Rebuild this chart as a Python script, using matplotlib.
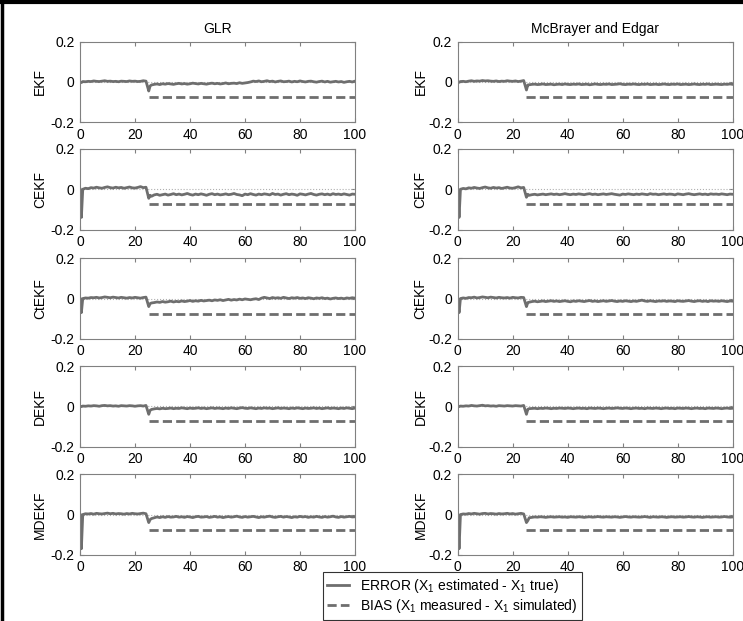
import numpy as np
import matplotlib
matplotlib.use("Agg")
import matplotlib.pyplot as plt
from matplotlib.lines import Line2D

plt.rcParams['font.family'] = ['Liberation Sans', 'DejaVu Sans']
plt.rcParams['mathtext.fontset'] = 'custom'
plt.rcParams['mathtext.rm'] = 'Liberation Sans'
plt.rcParams['mathtext.it'] = 'Liberation Sans:italic'

# sampling times of the error traces (extra points at the two transients)
t = np.concatenate([[0, 0.5], np.arange(1, 25), [25, 25.5], np.arange(26, 101)])

# error values, in units of 1e-3
err_glr_ekf = [0, -3,
    2, 1, 3, 2, 5, 3, 2, 4, 6, 3, 4, 2, 3, 1, 4, 3, 2, 5, 3, 4, 2, 3, 6, 4,
    -45, -20,
    -15, -12, -10, -13, -9, -11, -8, -10, -12, -9,
    -7, -10, -8, -11, -9, -6, -8, -10, -7, -9,
    -11, -8, -6, -9, -7, -10, -8, -5, -9, -7,
    -6, -8, -4, -7, -5,
    -3, 0, 4, 2, 5, 1, 3, 6, 2, 4, 0, 3, 5, 1, 2, 4, 0, 3, 1, 5,
    2, 0, 3, 4, 1, -1, 2, 4, 0, 3, -1, 1, 3, 0, 2, -2, 1, 3, 0, 4]
err_mcb_ekf = [0, -2,
    2, 3, 1, 4, 6, 3, 5, 4, 7, 5, 6, 4, 3, 5, 2, 4, 3, 6, 4, 3, 5, 2, 4, 7,
    -40, -15,
    -14, -12, -11, -13, -12, -10, -13, -12, -11, -14,
    -12, -11, -13, -10, -12, -13, -11, -12, -10, -13,
    -12, -11, -14, -12, -10, -12, -13, -11, -12, -10,
    -13, -12, -11, -9, -12, -13, -11, -12, -10, -12,
    -13, -11, -12, -10, -13, -12, -11, -13, -12, -10,
    -12, -13, -11, -12, -10, -13, -12, -11, -13, -12,
    -10, -12, -13, -11, -12, -10, -13, -12, -11, -12,
    -13, -11, -12, -10, -12]
err_glr_cekf = [0, -140,
    0, 5, 3, 8, 6, 10, 7, 5, 9, 12, 8, 6, 10, 7, 9, 5, 8, 11, 7, 6, 9, 13, 8, 10,
    -45, -30,
    -35, -28, -25, -30, -27, -24, -29, -26, -22, -27,
    -24, -28, -25, -21, -26, -29, -24, -27, -23, -26,
    -30, -25, -22, -27, -24, -28, -26, -23, -27, -25,
    -21, -26, -28, -32, -24, -27, -22, -26, -29, -24,
    -27, -23, -25, -28, -21, -26, -24, -29, -25, -22,
    -27, -24, -26, -30, -23, -25, -28, -24, -21, -26,
    -29, -25, -23, -27, -24, -28, -22, -26, -24, -27,
    -23, -26, -29, -24, -25]
err_mcb_cekf = [0, -140,
    0, 4, 2, 7, 5, 9, 6, 4, 8, 11, 7, 5, 9, 6, 8, 4, 7, 10, 6, 5, 8, 12, 7, 9,
    -40, -25,
    -30, -27, -25, -28, -26, -24, -27, -25, -23, -26,
    -24, -27, -25, -22, -25, -27, -24, -26, -23, -25,
    -27, -24, -22, -26, -24, -27, -25, -23, -26, -24,
    -22, -25, -27, -29, -24, -26, -23, -25, -27, -24,
    -26, -23, -25, -27, -22, -25, -24, -27, -25, -23,
    -26, -24, -25, -28, -23, -25, -27, -24, -22, -25,
    -27, -25, -23, -26, -24, -27, -23, -25, -24, -26,
    -23, -25, -27, -24, -25]
err_glr_ctekf = [0, -70,
    0, 3, 2, 5, 4, 6, 3, 5, 8, 6, 4, 7, 5, 3, 6, 4, 2, 5, 3, 6, 4, 2, 5, 7,
    -40, -25,
    -22, -20, -17, -19, -15, -18, -16, -13, -17, -14,
    -16, -12, -15, -13, -10, -14, -11, -13, -9, -12,
    -10, -8, -11, -7, -9, -6, -10, -7, -4, -8,
    -5, -7, -3, -6, -2, -4, -6, -3, -1, -5,
    2, 6, 3, 0, 5, 2, 4, 1, 6, 3,
    0, 4, 2, 5, 1, 3, 0, 4, 2, -1,
    3, 1, 4, 0, 2, -2, 1, 3, 0, 2,
    -1, 3, 1, 4, 2]
err_mcb_ctekf = [0, -70,
    0, 3, 1, 5, 4, 7, 3, 5, 8, 6, 4, 7, 5, 3, 6, 4, 3, 5, 2, 6, 4, 3, 6, 5,
    -40, -20,
    -18, -15, -13, -16, -14, -12, -15, -13, -11, -14,
    -12, -15, -13, -11, -14, -16, -12, -14, -11, -13,
    -15, -12, -10, -14, -12, -15, -13, -11, -14, -12,
    -10, -13, -15, -12, -14, -11, -13, -15, -12, -14,
    -11, -8, -12, -14, -11, -13, -15, -12, -13, -11,
    -14, -12, -13, -15, -11, -13, -14, -12, -10, -13,
    -15, -12, -11, -14, -12, -15, -11, -13, -12, -14,
    -11, -13, -15, -12, -13]
err_glr_dekf = [0, -2,
    1, 0, 2, 1, 3, 2, 0, 3, 4, 2, 3, 1, 2, 0, 3, 2, 1, 3, 2, 0, 2, 3, 1, 4,
    -40, -20,
    -16, -13, -11, -13, -10, -12, -11, -9, -12, -10,
    -11, -8, -10, -12, -9, -11, -10, -8, -11, -9,
    -12, -10, -8, -11, -9, -10, -12, -9, -11, -8,
    -10, -12, -9, -7, -10, -11, -8, -10, -12, -9,
    -11, -8, -10, -9, -12, -10, -8, -11, -9, -10,
    -12, -9, -11, -8, -10, -12, -9, -11, -10, -8,
    -11, -9, -12, -10, -8, -11, -9, -10, -12, -9,
    -11, -8, -10, -12, -9]
err_mcb_dekf = [0, -2,
    1, 0, 2, 1, 4, 2, 1, 3, 5, 2, 3, 1, 2, 0, 3, 2, 1, 3, 2, 1, 3, 2, 1, 4,
    -40, -15,
    -12, -11, -10, -12, -10, -11, -9, -10, -12, -10,
    -11, -9, -10, -11, -9, -10, -12, -10, -9, -11,
    -10, -12, -9, -10, -11, -9, -10, -12, -10, -9,
    -11, -10, -8, -10, -11, -9, -10, -12, -10, -9,
    -11, -10, -12, -9, -10, -11, -9, -10, -12, -10,
    -9, -11, -10, -12, -9, -10, -11, -9, -10, -12,
    -10, -9, -11, -10, -12, -9, -10, -11, -9, -10,
    -12, -10, -9, -11, -10]
err_glr_mdekf = [0, -170,
    0, 4, 3, 5, 2, 6, 4, 3, 5, 7, 4, 6, 3, 5, 4, 2, 5, 3, 6, 4, 3, 5, 7, 4,
    -40, -25,
    -20, -16, -12, -15, -11, -14, -10, -13, -12, -9,
    -13, -11, -14, -10, -12, -15, -11, -9, -13, -12,
    -10, -14, -12, -9, -13, -11, -15, -12, -10, -13,
    -11, -8, -12, -14, -10, -13, -11, -9, -12, -15,
    -11, -13, -10, -8, -12, -14, -11, -9, -13, -10,
    -12, -15, -11, -13, -9, -12, -10, -14, -11, -13,
    -9, -12, -14, -10, -13, -11, -8, -12, -14, -10,
    -13, -11, -9, -12, -11]
err_mcb_mdekf = [0, -170,
    0, 3, 2, 5, 3, 6, 4, 2, 5, 6, 3, 5, 4, 2, 5, 3, 4, 6, 3, 5, 2, 4, 6, 3,
    -40, -30,
    -16, -14, -12, -13, -11, -12, -14, -12, -11, -13,
    -12, -11, -13, -12, -14, -11, -12, -13, -11, -12,
    -14, -12, -11, -13, -12, -10, -12, -13, -11, -12,
    -13, -11, -12, -14, -12, -10, -12, -13, -11, -12,
    -13, -12, -10, -12, -14, -11, -12, -13, -11, -12,
    -14, -12, -11, -13, -12, -11, -13, -12, -10, -12,
    -13, -11, -12, -14, -12, -11, -13, -12, -11, -13,
    -12, -10, -12, -13, -12]

# bias: step at t = 25
bias_t = [25, 100]
bias_v = [-0.075, -0.075]

filters = ['EKF', 'CEKF', 'CtEKF', 'DEKF', 'MDEKF']
methods = ['GLR', 'McBrayer and Edgar']
errors = [[err_glr_ekf, err_mcb_ekf],
          [err_glr_cekf, err_mcb_cekf],
          [err_glr_ctekf, err_mcb_ctekf],
          [err_glr_dekf, err_mcb_dekf],
          [err_glr_mdekf, err_mcb_mdekf]]

W, H = 743, 621
fig = plt.figure(figsize=(W / 100, H / 100), dpi=100)

lefts = [80, 457.7]
label_off = [40, 37]   # px from the axis to the centre of the ylabel
width = 275
tops = [41.7, 149, 258.3, 366, 474.3]
height = 80.5
gray = '#6e6e6e'

for i, f in enumerate(filters):
    for j, m in enumerate(methods):
        ax = fig.add_axes([lefts[j] / W, 1 - (tops[i] + height) / H, width / W, height / H])
        e = np.array(errors[i][j]) * 1e-3
        assert len(e) == len(t)
        ax.plot([0, 100], [0, 0], ls=':', color='#b0b0b0', lw=0.8)
        l2, = ax.plot(bias_t, bias_v, color=gray, lw=2.0)
        l2.set_dashes((3.3, 1.5))
        l1, = ax.plot(t, e, color=gray, lw=2.0)
        ax.set_xlim(0, 100)
        ax.set_ylim(-0.2, 0.2)
        ax.set_xticks([0, 20, 40, 60, 80, 100])
        ax.set_yticks([-0.2, 0, 0.2])
        ax.set_yticklabels(['-0.2', '0', '0.2'])
        ax.tick_params(direction='in', length=3, top=True, right=True,
                       labelsize=10, pad=4, color='#808080')
        for s in ax.spines.values():
            s.set_color('#808080')
            s.set_linewidth(0.8)
        ax.set_ylabel(f, fontsize=10)
        ax.yaxis.label.set_va('center')
        ax.yaxis.set_label_coords(-label_off[j] / width, 0.5)
        if i == 0:
            ax.set_title(m, fontsize=10, pad=6)

leg = fig.legend([l1, l2],
                 ['ERROR (X$_1$ estimated - X$_1$ true)',
                  'BIAS (X$_1$ measured - X$_1$ simulated)'],
                 loc='lower left', bbox_to_anchor=(323 / W, 1.5 / H),
                 fontsize=10, frameon=True, fancybox=False, handlelength=1.6,
                 borderpad=0.3, labelspacing=0.2, handletextpad=0.8,
                 borderaxespad=0)
leg.get_frame().set_edgecolor('black')
leg.get_frame().set_linewidth(0.8)

# black frame round the figure (left and top)
fig.add_artist(Line2D([1.5 / W, 1.5 / W], [0, 1], color='black', lw=2.5))
fig.add_artist(Line2D([0, 1], [1 - 2 / H, 1 - 2 / H], color='black', lw=3))

fig.savefig('out.png', dpi=100)
